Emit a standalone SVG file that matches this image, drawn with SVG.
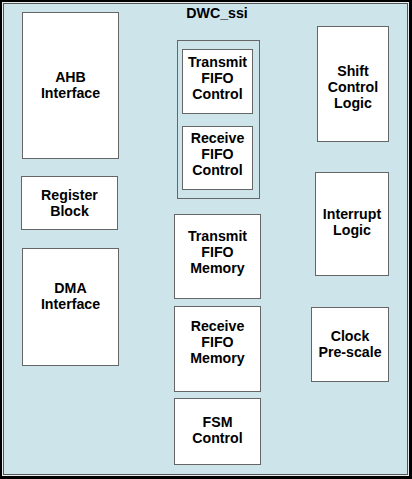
<svg xmlns="http://www.w3.org/2000/svg" width="412" height="479" viewBox="0 0 412 479">
<style>
.box{fill:#ffffff;stroke:#666666;stroke-width:1}
.grp{fill:#cde4eb;stroke:#666666;stroke-width:1}
text{font-family:"Liberation Sans",Arial,Helvetica,sans-serif;font-weight:bold;font-size:14.2px;fill:#000000;text-anchor:middle}
</style>
<g id="frame">
<rect x="0" y="0" width="412" height="479" fill="#000000"/>
<rect x="2.5" y="2.5" width="406" height="473" fill="#cde4eb" stroke="#e8eef0" stroke-width="1"/>
<rect x="3.5" y="3.5" width="404" height="471" fill="none" stroke="#555555" stroke-width="1"/>
<text x="217" y="17.5" font-size="14">DWC_ssi</text>
</g>
<g id="connectors"></g>
<g id="ahb">
<rect class="box" x="22.5" y="12.5" width="96" height="146"/>
<text x="70.5" y="82">AHB</text>
<text x="70.5" y="98">Interface</text>
</g>
<g id="register">
<rect class="box" x="21.5" y="176.5" width="96" height="53"/>
<text x="69.5" y="199.5">Register</text>
<text x="69.5" y="215.5">Block</text>
</g>
<g id="dma">
<rect class="box" x="22.5" y="248.5" width="96" height="117"/>
<text x="70.5" y="292.5">DMA</text>
<text x="70.5" y="308.5">Interface</text>
</g>
<g id="fifo-control-group">
<rect class="grp" x="177.5" y="40.5" width="82" height="158"/>
</g>
<g id="tx-fifo-control">
<rect class="box" x="182.5" y="49.5" width="70" height="64"/>
<text x="217.5" y="66.5">Transmit</text>
<text x="217.5" y="82.5">FIFO</text>
<text x="217.5" y="98.5">Control</text>
</g>
<g id="rx-fifo-control">
<rect class="box" x="182.5" y="126.5" width="70" height="63"/>
<text x="217.5" y="142.5">Receive</text>
<text x="217.5" y="158.5">FIFO</text>
<text x="217.5" y="174.5">Control</text>
</g>
<g id="tx-fifo-memory">
<rect class="box" x="174.5" y="214.5" width="86" height="84"/>
<text x="217.5" y="241">Transmit</text>
<text x="217.5" y="257">FIFO</text>
<text x="217.5" y="273">Memory</text>
</g>
<g id="rx-fifo-memory">
<rect class="box" x="174.5" y="306.5" width="86" height="85"/>
<text x="217.5" y="331">Receive</text>
<text x="217.5" y="347">FIFO</text>
<text x="217.5" y="363">Memory</text>
</g>
<g id="fsm-control">
<rect class="box" x="174.5" y="398.5" width="86" height="66"/>
<text x="217.5" y="427">FSM</text>
<text x="217.5" y="443">Control</text>
</g>
<g id="shift-control">
<rect class="box" x="317.5" y="26.5" width="71" height="115"/>
<text x="353" y="76">Shift</text>
<text x="353" y="92">Control</text>
<text x="353" y="108">Logic</text>
</g>
<g id="interrupt">
<rect class="box" x="315.5" y="172.5" width="73" height="103"/>
<text x="352" y="218.5">Interrupt</text>
<text x="352" y="234.5">Logic</text>
</g>
<g id="clock-prescale">
<rect class="box" x="311.5" y="307.5" width="77" height="74"/>
<text x="350" y="340.5">Clock</text>
<text x="350" y="356.5">Pre-scale</text>
</g>
</svg>
